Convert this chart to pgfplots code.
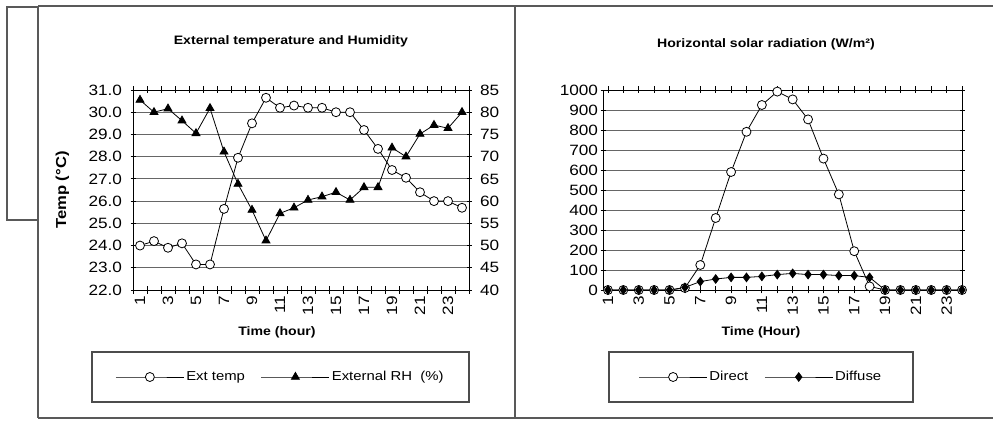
\documentclass[border=0pt]{standalone}
\usepackage{fontspec}
\setmainfont{Liberation Sans}[FakeStretch=1.15]
\usepackage{pgfplots}
\pgfplotsset{compat=1.18}
\pgfplotsset{
  base/.style={
    scale only axis, anchor=south west, height=200bp,
    tick label style={font=\fontsize{15}{17}\selectfont},
    /pgf/number format/assume math mode=true,
    /pgf/number format/1000 sep={},
    tick align=center, major tick length=5bp, minor tick length=7bp,
    tick style={black, line width=0.8bp},
    axis line style={black, line width=0.9bp},
    x tick label style={rotate=90, anchor=east},
    major x tick style={draw=none},
    grid style={black!60, line width=0.8bp},
    title style={font=\bfseries\fontsize{12.3}{14}\selectfont},
    label style={font=\bfseries\fontsize{12.3}{14}\selectfont},
    legend style={draw=none, fill=none, font=\fontsize{13}{15}\selectfont,
      /tikz/every even column/.append style={column sep=14bp}},
  },
  ser/.style={black, line width=0.8bp,
    legend image code/.code={\draw[mark repeat=2,mark phase=2] plot coordinates {(0bp,0bp) (34bp,0bp) (68bp,0bp)};}},
  temp/.style={ser, mark=*, mark size=4.5bp, mark options={fill=white, draw=black, line width=0.8bp}},
  rh/.style={ser, mark=triangle*, mark size=4.6bp, mark options={fill=black}},
  direct/.style={ser, mark=*, mark size=4.5bp, mark options={fill=white, draw=black, line width=0.8bp}},
  diffuse/.style={ser, mark=diamond*, mark size=4.3bp, mark options={fill=black}},
}
\begin{document}
\begin{tikzpicture}
\path[use as bounding box] (0,0) rectangle (993bp,421bp);
\begin{scope}[black!65, line width=1.3bp]
\draw (38bp,415bp) -- (993bp,415bp);
\draw (38bp,3bp) -- (993bp,3bp);
\draw (38bp,3bp) -- (38bp,415bp);
\draw (515bp,3bp) -- (515bp,415bp);
\draw (7bp,201bp) rectangle (38bp,414bp);
\end{scope}
\draw[black!70, line width=1.1bp] (92bp,19bp) rectangle (469bp,69bp);
\draw[black!70, line width=1.1bp] (609bp,19bp) rectangle (913bp,69bp);

% ---------- left: temperature ----------
\begin{axis}[base,
  at={(133bp,131bp)}, width=336bp,
  xmin=0.5, xmax=24.5, ymin=22, ymax=31,
  ytick={22,23,...,31},
  yticklabel style={xshift=-5bp, /pgf/number format/.cd,fixed,fixed zerofill,precision=1},
  xtick={1,3,...,23}, minor xtick={0.5,1.5,...,24.5},
  ymajorgrids, axis y line*=left,
  title={External temperature and Humidity},
  title style={at={(axis description cs:0.47,1.215)}, anchor=center},
  xlabel={Time (hour)},
  xlabel style={at={(axis description cs:0.4286,-0.21)}, anchor=center},
  ylabel={Temp (°C)},
  ylabel style={at={(axis description cs:-0.21,0.5)}, anchor=center, font=\bfseries\fontsize{14.5}{16}\selectfont},
  clip=false,
]
\addplot[temp] coordinates {
(1,24.0) (2,24.2) (3,23.9) (4,24.1) (5,23.15) (6,23.15) (7,25.65) (8,27.95)
(9,29.5) (10,30.65) (11,30.2) (12,30.3) (13,30.2) (14,30.2) (15,30.0) (16,30.0)
(17,29.2) (18,28.35) (19,27.4) (20,27.05) (21,26.4) (22,26.0) (23,26.0) (24,25.7)};
\draw[black, line width=0.9bp] (axis description cs:0,1) -- (axis description cs:1,1);
\end{axis}
\begin{axis}[base,
  at={(133bp,131bp)}, width=336bp,
  xmin=0.5, xmax=24.5, ymin=40, ymax=85,
  ytick={40,45,...,85},
  yticklabel style={xshift=5bp},
  axis y line*=right, axis x line*=bottom,
  xtick={1,3,...,23}, minor xtick={0.5,1.5,...,24.5},
  xticklabels={}, 
  legend columns=2,
  legend style={at={(axis description cs:0.439,-0.435)}, anchor=center},
  clip=false,
]
\addlegendimage{temp}
\addlegendentry{Ext temp}
\addplot[rh] coordinates {
(1,82.75) (2,80.0) (3,80.8) (4,78.1) (5,75.25) (6,80.9) (7,71.1) (8,63.85)
(9,58.0) (10,51.1) (11,57.25) (12,58.5) (13,60.25) (14,61.0) (15,62.0) (16,60.25)
(17,63.1) (18,63.1) (19,72.0) (20,70.0) (21,75.1) (22,77.1) (23,76.4) (24,80.0)};
\addlegendentry{External RH\ \ (\%)}
\end{axis}

% ---------- right: solar radiation ----------
\begin{axis}[base,
  at={(603bp,131bp)}, width=359bp,
  xmin=0.68, xmax=24, ymin=0, ymax=1000,
  ytick={0,100,...,1000},
  yticklabel style={xshift=1bp},
  xtick={1,3,...,23}, minor xtick={1,2,...,24},
  ymajorgrids,
  title={Horizontal solar radiation (W/m²)},
  title style={at={(axis description cs:0.454,1.2)}, anchor=center},
  xlabel={Time (Hour)},
  xlabel style={at={(axis description cs:0.44,-0.21)}, anchor=center},
  legend columns=2,
  legend style={at={(axis description cs:0.44,-0.435)}, anchor=center},
  clip=false,
]
\addplot[direct] coordinates {
(1,0) (2,0) (3,0) (4,0) (5,0) (6,10) (7,125) (8,360) (9,590) (10,791) (11,925) (12,992)
(13,953) (14,853) (15,657) (16,478) (17,194) (18,18) (19,0) (20,0) (21,0) (22,0) (23,0) (24,0)};
\addlegendentry{Direct}
\addplot[diffuse] coordinates {
(1,0) (2,0) (3,0) (4,0) (5,0) (6,13) (7,42) (8,55) (9,63) (10,63) (11,68) (12,77)
(13,83) (14,77) (15,77) (16,72) (17,72) (18,63) (19,0) (20,0) (21,0) (22,0) (23,0) (24,0)};
\addlegendentry{Diffuse}
\end{axis}
\end{tikzpicture}
\end{document}
